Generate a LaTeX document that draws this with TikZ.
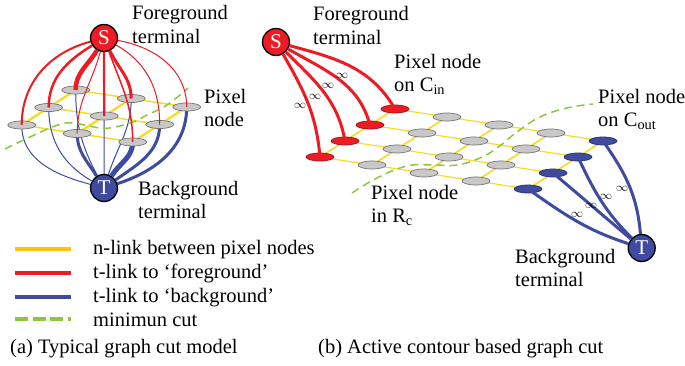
\documentclass[tikz,border=0pt]{standalone}
\usepackage{fontspec}
\setmainfont{Liberation Serif}
\usetikzlibrary{shapes.geometric,backgrounds}

\definecolor{fgred}{RGB}{237,28,36}
\definecolor{bgblue}{RGB}{62,75,158}
\definecolor{nyellow}{RGB}{246,220,42}
\definecolor{nlegend}{RGB}{255,192,20}
\definecolor{cutgreen}{RGB}{141,198,63}
\definecolor{pixgray}{RGB}{200,200,200}

\tikzset{
	pix/.style={ellipse, draw=black!55, fill=pixgray, line width=0.7pt, minimum width=28pt, minimum height=8pt, inner sep=0pt},
	pixfg/.style={pix, draw=fgred!65!black, fill=fgred},
	pixbg/.style={pix, draw=bgblue!65!black, fill=bgblue},
	terminal/.style={circle, draw=black, line width=1.3pt, minimum size=27pt, inner sep=0pt, text=white, font=\fontsize{21}{21}\selectfont},
	nlink/.style={nyellow, line width=#1pt},
	nlink/.default=1.2,
	tfg/.style={fgred, line width=#1pt},
	tbg/.style={bgblue, line width=#1pt},
	mincut/.style={cutgreen, line width=1.5pt, dash pattern=on 8pt off 5pt},
	legline/.style={line width=3.8pt},
	lbl/.style={anchor=base west, align=left, inner sep=0pt, font=\fontsize{20.5}{23.5}\selectfont},
	inf/.style={inner sep=0pt, font=\fontsize{12}{12}\selectfont},
}

\begin{document}
\begin{tikzpicture}[x=1pt, y=1pt]
	\useasboundingbox (0,0) rectangle (685,365);

	% (a) typical graph cut model
	\foreach \i in {0,1,2}
		\foreach \j in {0,1,2}
			\node[pix] (a\i\j) at ({21.7+55.5*\i+27*\j},{240-8.5*\i+17.5*\j}) {};
	\node[terminal, fill=fgred] (Sa) at (104,327) {S};
	\node[terminal, fill=bgblue] (Ta) at (104,177) {T};

	\begin{scope}[on background layer]
		\foreach \i/\k in {0/1,1/2}
			\foreach \j in {0,1,2}
				\draw[nlink=1.5] (a\i\j.center) -- (a\k\j.center);
		\foreach \i in {0,1,2}
			\foreach \j/\k in {0/1,1/2}
				\draw[nlink=2.4] (a\i\j.center) -- (a\i\k.center);
		\foreach \n/\w/\o in {00/1/165, 01/1/150, 02/1/118, 10/3/122, 11/1/90, 12/1/72, 20/5/58, 21/3/35, 22/3/18}
			\draw[tbg=\w] (Ta) to[out=\o, in=-90] (a\n.center);
	\end{scope}
	\draw[mincut] plot[smooth, tension=0.7] coordinates {(5,216) (30,228) (55,239) (72,242) (100,237) (115,238) (133,243) (147,250) (167,260) (188,277)};
	\foreach \n/\w/\o in {00/2/195, 01/2.5/212, 02/4.5/240, 10/1/255, 11/2.2/270, 12/3/295, 20/1.5/290, 21/1/330, 22/1/350}
		\draw[tfg=\w] (Sa) to[out=\o, in=90] (a\n.center);

	% multi-line labels sit on the baseline of their last line
	\node[lbl] (fga) at (132,321.5) {Foreground\\terminal};
	\node[lbl] (pixa) at (204,238.5) {Pixel\\node};
	\node[lbl] (bga) at (138,146.5) {Background\\terminal};

	% (b) active contour based graph cut
	\foreach \r in {0,...,3} {
		\node[pixfg] (b\r0) at ({395-25*\r},{256-16*\r}) {};
		\foreach \c in {1,2,3}
			\node[pix] (b\r\c) at ({395-25*\r+52*\c},{256-16*\r-8*\c}) {};
		\node[pixbg] (b\r4) at ({603-25*\r},{224-16*\r}) {};
	}
	\node[terminal, fill=fgred] (Sb) at (276,323) {S};
	\node[terminal, fill=bgblue] (Tb) at (641.7,117) {T};

	\begin{scope}[on background layer]
		\foreach \r in {0,...,3}
			\foreach \c/\d in {0/1,1/2,2/3,3/4}
				\draw[nlink] (b\r\c.center) -- (b\r\d.center);
		\foreach \r/\s in {0/1,1/2,2/3}
			\foreach \c in {0,...,4}
				\draw[nlink=1.7] (b\r\c.center) -- (b\s\c.center);
	\end{scope}
	\draw[mincut] plot[smooth, tension=0.7] coordinates {(352,172) (377,187) (407,199) (433,200) (457,200) (480,207) (497,217) (517,233) (540,248) (567,257) (593,261)};
	\foreach \r/\o/\e in {0/-15/120, 1/-30/105, 2/-45/100, 3/-60/95}
		\draw[tfg=3] (Sb) to[out=\o, in=\e] (b\r0.center);
	\foreach \r/\o/\e in {0/95/-55, 1/135/-65, 2/140/-40, 3/162/-35}
		\draw[tbg=3] (Tb) to[out=\o, in=\e] (b\r4.center);

	\node[inf] (infa) at (300,259) {$\infty$};
	\node[inf] (infb) at (315,268) {$\infty$};
	\node[inf] (infc) at (328,279) {$\infty$};
	\node[inf] (infd) at (342,289) {$\infty$};
	\node[inf] (infe) at (577,150) {$\infty$};
	\node[inf] (inff) at (591,159) {$\infty$};
	\node[inf] (infg) at (606,168) {$\infty$};
	\node[inf] (infh) at (622,176) {$\infty$};

	\node[lbl] (fgb) at (313,320.5) {Foreground\\terminal};
	\node[lbl] (cin) at (394,273.5) {Pixel node\\on C\textsubscript{in}};
	\node[lbl] (cout) at (598,238.5) {Pixel node\\on C\textsubscript{out}};
	\node[lbl] (rc) at (371,142.5) {Pixel node\\in R\textsubscript{c}};
	\node[lbl] (bgb) at (515,78.5) {Background\\terminal};

	% legend
	\node[lbl] (leg1) at (93,111) {n-link between pixel nodes};
	\node[lbl] (leg2) at (93,87) {t-link to `foreground'};
	\node[lbl] (leg3) at (93,63) {t-link to `background'};
	\node[lbl] (leg4) at (93,39) {minimun cut};
	\draw[legline, nlegend] ([xshift=-78pt]leg1.west) -- ++(56,0);
	\draw[legline, fgred] ([xshift=-78pt]leg2.west) -- ++(56,0);
	\draw[legline, bgblue] ([xshift=-78pt]leg3.west) -- ++(56,0);
	\draw[legline, cutgreen, dash pattern=on 13pt off 4.5pt] ([xshift=-78pt]leg4.west) -- ++(56,0);

	\node[lbl] (capa) at (10,12) {(a) Typical graph cut model};
	\node[lbl] (capb) at (318,12) {(b) Active contour based graph cut};
\end{tikzpicture}
\end{document}
